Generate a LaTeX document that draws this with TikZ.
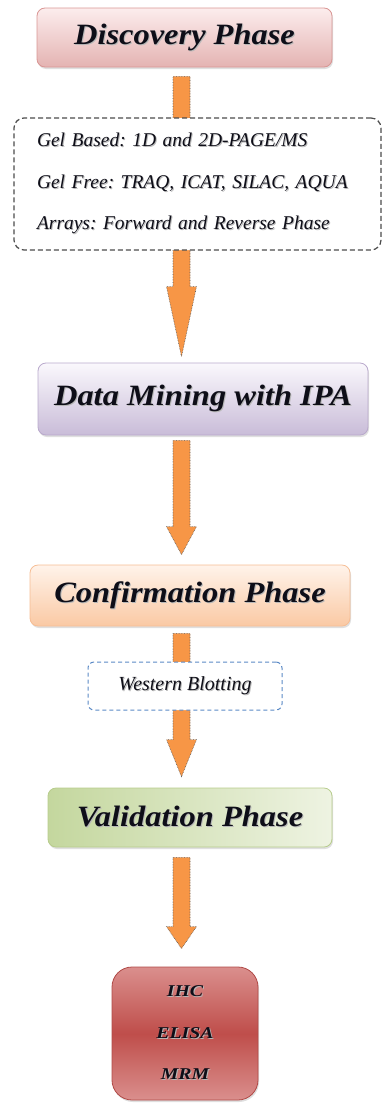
\documentclass[tikz,border=0pt]{standalone}
\usepackage{fontspec}
\setmainfont{Liberation Serif}
\newfontfamily\headfont[FakeStretch=1.1]{Liberation Serif}
\newfontfamily\smallheadfont[FakeStretch=1.2]{Liberation Serif}
\usetikzlibrary{calc,shadows}
\frenchspacing

\definecolor{discTop}{HTML}{FCEDED}
\definecolor{discBot}{HTML}{E4B3B2}
\definecolor{discLine}{HTML}{D99694}
\definecolor{dmTop}{HTML}{FAF8FC}
\definecolor{dmBot}{HTML}{C9BCD8}
\definecolor{dmLine}{HTML}{B9A9CC}
\definecolor{confTop}{HTML}{FFF3EA}
\definecolor{confBot}{HTML}{FAC9A4}
\definecolor{confLine}{HTML}{F6BD94}
\definecolor{valLeft}{HTML}{C4D79E}
\definecolor{valRight}{HTML}{EEF3E2}
\definecolor{valLine}{HTML}{B7CC8C}
\definecolor{finEdge}{HTML}{DA8F8D}
\definecolor{finMid}{HTML}{BF4E4B}
\definecolor{finLine}{HTML}{B04A47}
\definecolor{arrowOrange}{HTML}{F79646}
\definecolor{blotBlue}{HTML}{5B8AC6}
\definecolor{inkDark}{HTML}{0E0E18}

% text with a soft offset shadow
\newcommand\shtext[1]{\makebox[0pt][l]{\kern1pt\raisebox{-1pt}{\textcolor{black!28}{#1}}}#1}

% fat block arrow along the vertical axis: from node, to node, start gap, end gap, head length
\newcommand\fatarrow[5]{%
  \path[arrowbody] let \p1=(axis), \p2=(#1), \p3=(#2) in
    (\x1-8.5pt,\y2-#3pt) -- (\x1+8.5pt,\y2-#3pt)
    -- (\x1+8.5pt,\y3+#4pt+#5pt) -- (\x1+15pt,\y3+#4pt+#5pt)
    -- (\x1,\y3+#4pt)
    -- (\x1-15pt,\y3+#4pt+#5pt) -- (\x1-8.5pt,\y3+#4pt+#5pt) -- cycle;}

\begin{document}
\begin{tikzpicture}[x=1pt,y=-1pt,
  phase/.style={rounded corners=8pt, line width=0.8pt, inner sep=0pt,
    drop shadow={shadow xshift=1pt, shadow yshift=-2pt, opacity=0.25},
    font=\headfont\bfseries\itshape\fontsize{29.5}{31}\selectfont, text=inkDark},
  arrowbody/.style={fill=arrowOrange, draw=black!65, densely dotted, line width=0.6pt},
  techbox/.style={rounded corners=10pt, draw=black!70, dashed, dash pattern=on 5pt off 3pt,
    line width=1.2pt, fill=white, inner sep=0pt},
  blotbox/.style={rounded corners=6pt, draw=blotBlue, dash pattern=on 4pt off 3pt,
    line width=1pt, fill=white, inner sep=0pt},
  finalbox/.style={rounded corners=20pt, draw=finLine, line width=0.8pt, inner sep=0pt,
    top color=finEdge, bottom color=finEdge, middle color=finMid,
    drop shadow={shadow xshift=1pt, shadow yshift=-2pt, opacity=0.25},
    font=\smallheadfont\bfseries\itshape\fontsize{16.5}{41.5}\selectfont, text=inkDark, align=center}
]
\useasboundingbox (0,0) rectangle (382,1103);

\coordinate (axis) at (181.5,0);

% phase boxes
\node[phase, minimum width=295pt, minimum height=59pt, draw=discLine,
  top color=discTop, bottom color=discBot] (disc) at (184.5,37.5) {\raisebox{2pt}{\shtext{Discovery Phase}}};
\node[phase, minimum width=330pt, minimum height=72pt, draw=dmLine,
  top color=dmTop, bottom color=dmBot] (dm) at (203,399) {\raisebox{6pt}{\shtext{Data Mining with IPA}}};
\node[phase, minimum width=320pt, minimum height=61pt, draw=confLine,
  top color=confTop, bottom color=confBot] (conf) at (190,595.5) {\raisebox{2pt}{\shtext{Confirmation Phase}}};
\node[phase, minimum width=284pt, minimum height=59pt, draw=valLine,
  left color=valLeft, right color=valRight] (valid) at (190,817.5) {\raisebox{2pt}{\shtext{Validation Phase}}};
\node[finalbox, minimum width=146pt, minimum height=133pt] (final) at (185,1033.5)
  {\shtext{IHC}\\\shtext{ELISA}\\\shtext{MRM}};

% connectors
\fatarrow{disc.south}{dm.north}{9}{6}{70}
\fatarrow{dm.south}{conf.north}{5}{10}{28}
\fatarrow{conf.south}{valid.north}{7}{11}{37}
\fatarrow{valid.south}{final.north}{10}{18}{22}

% technique boxes laid over the arrows
\node[techbox, minimum width=367pt, minimum height=132pt, text width=321pt, align=left,
  font=\itshape\fontsize{19.5}{41.5}\selectfont, text=inkDark] (tech) at (197.5,184)
  {\shtext{Gel Based: 1D and 2D-PAGE/MS}\\
   \shtext{Gel Free: TRAQ, ICAT, SILAC, AQUA}\\
   \shtext{Arrays: Forward and Reverse Phase}};
\node[blotbox, minimum width=194pt, minimum height=48pt,
  font=\itshape\fontsize{20}{22}\selectfont, text=inkDark] (blot) at (185,686)
  {\raisebox{3pt}{\shtext{Western Blotting}}};
\end{tikzpicture}
\end{document}
